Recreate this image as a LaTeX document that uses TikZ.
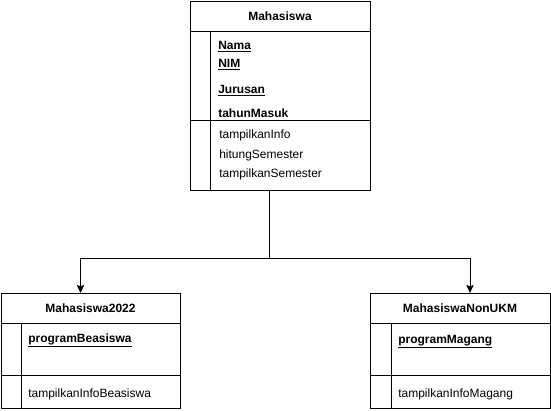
\documentclass[tikz,border=0pt]{standalone}
\usepackage{fontspec}
\setmainfont{Liberation Sans}
\usetikzlibrary{positioning,arrows.meta}

\tikzset{
    classbox/.style={
           rectangle,
           draw=black, line width=0.75pt,
           minimum width=135pt,
           inner sep=0pt, outer sep=0pt,
           font=\fontsize{9pt}{11pt}\selectfont\bfseries,
           },
    member/.style={
           anchor=base west,
           inner sep=0pt,
           font=\fontsize{9pt}{11pt}\selectfont,
           },
    field/.style={
           member,
           font=\fontsize{9pt}{11pt}\selectfont\bfseries,
           },
    inherit/.style={
           line width=0.75pt,
           -{Stealth[length=6pt,width=5.5pt,inset=1pt]},
           },
}

\begin{document}
\begin{tikzpicture}[x=0.75pt,y=-0.75pt]
\useasboundingbox (0,0) rectangle (551,411);

       % Mahasiswa
       \node[classbox, minimum height=22.5pt] (MHS) at (280,16) {Mahasiswa};
       \node[classbox, minimum height=66.75pt, below=0pt of MHS] (MHSATTR) {};
       \node[classbox, minimum height=52.5pt, below=0pt of MHSATTR] (MHSOPS) {};
       \draw[line width=0.75pt] ([xshift=15pt]MHSATTR.north west) -- ([xshift=15pt]MHSOPS.south west);

       \node[field] (NAMA) at ([xshift=21pt,yshift=-13.5pt]MHSATTR.north west) {\underline{Nama}};
       \node[field] (NIM) at ([xshift=21pt,yshift=-27pt]MHSATTR.north west) {\underline{NIM}};
       \node[field] (JURUSAN) at ([xshift=21pt,yshift=-46.5pt]MHSATTR.north west) {\underline{Jurusan}};
       \node[field] (TAHUN) at ([xshift=21pt,yshift=-65pt]MHSATTR.north west) {tahunMasuk};

       \node[member] (INFO) at ([xshift=21.75pt,yshift=-13.5pt]MHSOPS.north west) {tampilkanInfo};
       \node[member] (HITUNG) at ([xshift=21.75pt,yshift=-28.5pt]MHSOPS.north west) {hitungSemester};
       \node[member] (SEMESTER) at ([xshift=21.75pt,yshift=-42.75pt]MHSOPS.north west) {tampilkanSemester};

       % Mahasiswa2022
       \node[classbox, minimum width=134.25pt, minimum height=22.5pt] (M22) at (90.5,308) {Mahasiswa2022};
       \node[classbox, minimum width=134.25pt, minimum height=39pt, below=0pt of M22] (M22ATTR) {};
       \node[classbox, minimum width=134.25pt, minimum height=24.75pt, below=0pt of M22ATTR] (M22OPS) {};
       \draw[line width=0.75pt] ([xshift=15pt]M22ATTR.north west) -- ([xshift=15pt]M22OPS.south west);

       \node[field] (BEASISWA) at ([xshift=20.25pt,yshift=-14.25pt]M22ATTR.north west) {\underline{programBeasiswa}};
       \node[member] (INFOBEASISWA) at ([xshift=20.25pt,yshift=-16.5pt]M22OPS.north west) {tampilkanInfoBeasiswa};

       % MahasiswaNonUKM
       \node[classbox, minimum height=22.5pt] (MNU) at (460,308) {MahasiswaNonUKM};
       \node[classbox, minimum height=39pt, below=0pt of MNU] (MNUATTR) {};
       \node[classbox, minimum height=24.75pt, below=0pt of MNUATTR] (MNUOPS) {};
       \draw[line width=0.75pt] ([xshift=15.75pt]MNUATTR.north west) -- ([xshift=15.75pt]MNUOPS.south west);

       \node[field] (MAGANG) at ([xshift=21pt,yshift=-15pt]MNUATTR.north west) {\underline{programMagang}};
       \node[member] (INFOMAGANG) at ([xshift=21pt,yshift=-16.5pt]MNUOPS.north west) {tampilkanInfoMagang};

       \coordinate (JOIN) at (269,258);
       \draw[line width=0.75pt] (MHSOPS.south -| JOIN) -- (JOIN);
       \draw[inherit] (JOIN) -| ([xshift=-7.5pt]M22.north);
       \draw[inherit] (JOIN) -| ([xshift=7.5pt]MNU.north);

\end{tikzpicture}
\end{document}
